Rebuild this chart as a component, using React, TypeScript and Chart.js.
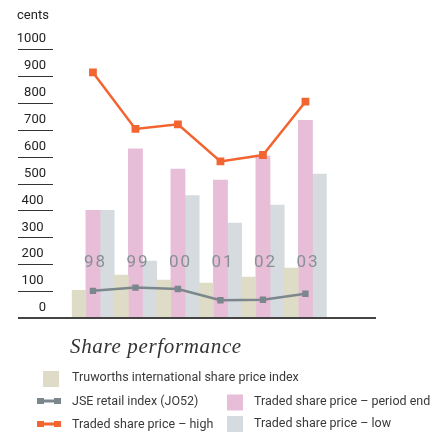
import React, { useEffect, useRef } from "react";
import { Chart, registerables } from "chart.js";

Chart.register(...registerables);

const categories = ["98", "99", "00", "01", "02", "03"];
const truworthsIndex = [103, 160, 141, 130, 152, 186];
const jseRetail = [101, 113, 108, 66, 68, 90];
const periodEnd = [400, 629, 554, 513, 602, 735];
const periodLow = [400, 212, 455, 353, 420, 535];
const periodHigh = [913, 703, 720, 582, 606, 804];
const yTicks = [0, 100, 200, 300, 400, 500, 600, 700, 800, 900, 1000];
const unitLabel = "cents";
const titleText = "Share performance";

const NUM_FONT = "Roboto";

const decorPlugin = {
  id: "decor",
  beforeDatasetsDraw(chart: any) {
    const ctx = chart.ctx;
    const y = chart.scales.y;
    ctx.save();
    ctx.fillStyle = "#222";
    ctx.font = `13px ${NUM_FONT}`;
    ctx.textBaseline = "middle";
    ctx.textAlign = "left";
    ctx.fillText(unitLabel, 17, 16);
    ctx.textAlign = "right";
    yTicks.forEach((v) => {
      const py = y.getPixelForValue(v);
      ctx.fillText(String(v), v >= 500 || v === 0 ? 46 : 43.5, py - 10);
      if (v !== 0) {
        ctx.strokeStyle = "#333";
        ctx.lineWidth = 1;
        ctx.beginPath();
        ctx.moveTo(18, Math.round(py) + 0.5);
        ctx.lineTo(53, Math.round(py) + 0.5);
        ctx.stroke();
      }
    });
    ctx.restore();
  },
  afterDatasetsDraw(chart: any) {
    const ctx = chart.ctx;
    const x = chart.scales.x;
    const y = chart.scales.y;
    const y0 = y.getPixelForValue(0);
    ctx.save();
    // axis line
    ctx.strokeStyle = "#444";
    ctx.lineWidth = 2;
    ctx.beginPath();
    ctx.moveTo(18, y0);
    ctx.lineTo(376, y0);
    ctx.stroke();
    // year labels
    ctx.fillStyle = "#869195";
    ctx.font = `17px ${NUM_FONT}`;
    (ctx as any).letterSpacing = "2px";
    ctx.textAlign = "center";
    ctx.textBaseline = "middle";
    categories.forEach((c, i) => {
      ctx.fillText(c, x.getPixelForValue(i) + 2.5, y0 - 55);
    });
    (ctx as any).letterSpacing = "0px";
    ctx.restore();
  },
  afterDraw(chart: any) {
    const ctx = chart.ctx;
    const ds = chart.data.datasets;
    ctx.save();
    // title
    ctx.fillStyle = "#333";
    ctx.font = `italic 21px "Liberation Serif"`;
    (ctx as any).letterSpacing = "0.65px";
    ctx.textAlign = "left";
    ctx.textBaseline = "middle";
    ctx.fillText(titleText, 70, 347);
    (ctx as any).letterSpacing = "0px";

    ctx.font = `12.5px ${NUM_FONT}`;
    ctx.fillStyle = "#3a3a3a";
    const square = (d: any, sx: number, sy: number, tx: number, ty: number) => {
      ctx.fillStyle = d.backgroundColor;
      ctx.fillRect(sx, sy, 16, 16);
      ctx.fillStyle = "#3a3a3a";
      ctx.fillText(d.label, tx, ty);
    };
    const lineMark = (d: any, ly: number, tx: number) => {
      ctx.strokeStyle = d.borderColor;
      ctx.fillStyle = d.borderColor;
      ctx.lineWidth = 3;
      ctx.beginPath();
      ctx.moveTo(38, ly);
      ctx.lineTo(60, ly);
      ctx.stroke();
      ctx.fillRect(37, ly - 3, 7, 6);
      ctx.fillRect(54, ly - 3, 7, 6);
      ctx.fillStyle = "#3a3a3a";
      ctx.fillText(d.label, tx, ly + 1);
    };
    square(ds[2], 43, 371, 72, 378);
    lineMark(ds[0], 401, 72);
    square(ds[3], 227, 394.5, 254, 402);
    lineMark(ds[1], 424, 72);
    square(ds[4], 227, 416, 254, 424);
    ctx.restore();
  },
};

export default function App() {
  const ref = useRef<HTMLCanvasElement | null>(null);
  useEffect(() => {
    if (!ref.current) return;
    const chart = new Chart(ref.current, {
      type: "bar",
      data: {
        labels: categories,
        datasets: [
          {
            type: "line",
            label: "JSE retail index (JO52)",
            data: jseRetail,
            borderColor: "#7b878c",
            backgroundColor: "#7b878c",
            borderWidth: 2.5,
            pointStyle: "rect",
            pointRadius: 4.5,
            pointBorderWidth: 0,
            order: 0,
          } as any,
          {
            type: "line",
            label: "Traded share price – high",
            data: periodHigh,
            borderColor: "#f26430",
            backgroundColor: "#f26430",
            borderWidth: 2.5,
            pointStyle: "rect",
            pointRadius: 5.5,
            pointBorderWidth: 0,
            order: 0,
          } as any,
          {
            label: "Truworths international share price index",
            data: truworthsIndex,
            backgroundColor: "#dedcc7",
            order: 1,
          },
          {
            label: "Traded share price – period end",
            data: periodEnd,
            backgroundColor: "#e8bdd7",
            order: 1,
          },
          {
            label: "Traded share price – low",
            data: periodLow,
            backgroundColor: "#d5dbde",
            order: 1,
          },
        ],
      },
      options: {
        responsive: false,
        animation: false,
        datasets: { bar: { barPercentage: 1, categoryPercentage: 1 } } as any,
        layout: { padding: { left: 71.7, right: 113.3, top: 49, bottom: 114 } },
        scales: {
          x: { display: false, offset: true },
          y: { display: false, min: 0, max: 1000 },
        },
        plugins: { legend: { display: false }, tooltip: { enabled: false } },
      },
      plugins: [decorPlugin],
    });
    return () => chart.destroy();
  }, []);
  return (
    <div style={{ position: "absolute", left: 0, top: 0, width: 440, height: 432, background: "#fff" }}>
      <canvas ref={ref} width={440} height={432} style={{ width: 440, height: 432, display: "block" }} />
    </div>
  );
}
